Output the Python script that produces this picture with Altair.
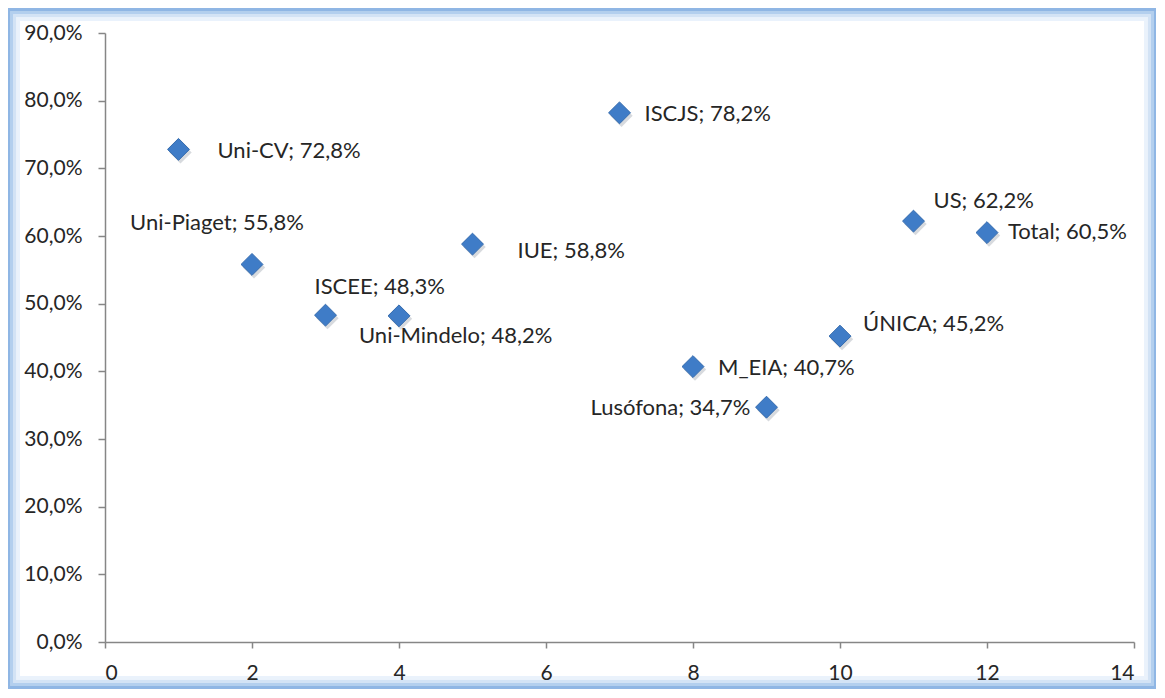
import altair as alt
import pandas as pd

# ---- data ----
positions = [1, 2, 3, 4, 5, 7, 8, 9, 10, 11, 12]
names = ["Uni-CV", "Uni-Piaget", "ISCEE", "Uni-Mindelo", "IUE", "ISCJS",
         "M_EIA", "Lusófona", "ÚNICA", "US", "Total"]
values = [72.8, 55.8, 48.3, 48.2, 58.8, 78.2, 40.7, 34.7, 45.2, 62.2, 60.5]

x_ticks = [0, 2, 4, 6, 8, 10, 12, 14]
y_ticks = [0, 10, 20, 30, 40, 50, 60, 70, 80, 90]

df = pd.DataFrame({"pos": positions, "name": names, "value": values})
df["label"] = [f"{n}; {str(v).replace('.', ',')}%" for n, v in zip(names, values)]

# label placement (style, not data)
placement = {
    "Uni-CV": ("left", 39, 2),
    "Uni-Piaget": ("center", -35, -41),
    "ISCEE": ("left", -11, -28),
    "Uni-Mindelo": ("left", -40, 20),
    "IUE": ("left", 45, 7),
    "ISCJS": ("left", 25, 1),
    "M_EIA": ("left", 25, 1),
    "Lusófona": ("right", -16, 1),
    "ÚNICA": ("left", 23, -12),
    "US": ("left", 20, -20),
    "Total": ("left", 21, -1),
}

W, H = 1029, 609
FONT = "Lato"
AXIS_COLOR = "#868686"
TEXT_COLOR = "#262626"

base = alt.Chart(df)

x = alt.X("pos:Q", scale=alt.Scale(domain=[0, 14], nice=False),
          axis=alt.Axis(values=x_ticks, title=None, grid=False, zindex=1,
                        domainColor=AXIS_COLOR, tickColor=AXIS_COLOR,
                        domainWidth=1.5, tickWidth=1.5,
                        tickSize=6, labelPadding=14, labelFontSize=21,
                        labelFont=FONT, labelColor=TEXT_COLOR))
y = alt.Y("value:Q", scale=alt.Scale(domain=[0, 90], nice=False),
          axis=alt.Axis(values=y_ticks, title=None, grid=False, zindex=1,
                        domainColor=AXIS_COLOR, tickColor=AXIS_COLOR,
                        domainWidth=1.5, tickWidth=1.5,
                        tickSize=7, labelPadding=16, labelFontSize=21,
                        labelFont=FONT, labelColor=TEXT_COLOR,
                        labelExpr="replace(format(datum.value, '.1f'), '.', ',') + '%'"))

# decorative frame (soft blue gradient border)
frame_layers = []
for i, col in enumerate(["#8fb6e4", "#b3cfee", "#d3e3f5", "#eaf2fb"]):
    off = i * 3
    frame_layers.append(
        alt.Chart(df).mark_rect(fill=None, stroke=col, strokeWidth=3).encode(
            x=alt.value(-96 + off), x2=alt.value(W + 21 - off),
            y=alt.value(-23 + off), y2=alt.value(H + 45 - off)))

shadow = base.mark_point(shape="diamond", filled=True, size=500, color="#9aa3ad",
                         opacity=0.4).encode(
    x=x, y=y, xOffset=alt.value(2), yOffset=alt.value(3))
points = base.mark_point(shape="diamond", filled=True, size=480, color="#3f7cc7",
                         stroke="#336aad", strokeWidth=1, opacity=1).encode(x=x, y=y)

labels = []
for n in names:
    align, dx, dy = placement[n]
    labels.append(
        base.transform_filter(alt.datum.name == n).mark_text(
            align=align, baseline="middle", dx=dx, dy=dy, font=FONT,
            fontSize=22, color=TEXT_COLOR).encode(x=x, y=y, text="label:N"))

chart = alt.layer(*frame_layers, shadow, points, *labels).properties(
    width=W, height=H,
    autosize=alt.AutoSizeParams(type="none"),
    padding={"left": 97, "top": 25, "right": 22, "bottom": 47},
    background="white",
).configure_view(stroke=None)

chart.save("out.html", embed_options={"renderer": "svg", "actions": False})
